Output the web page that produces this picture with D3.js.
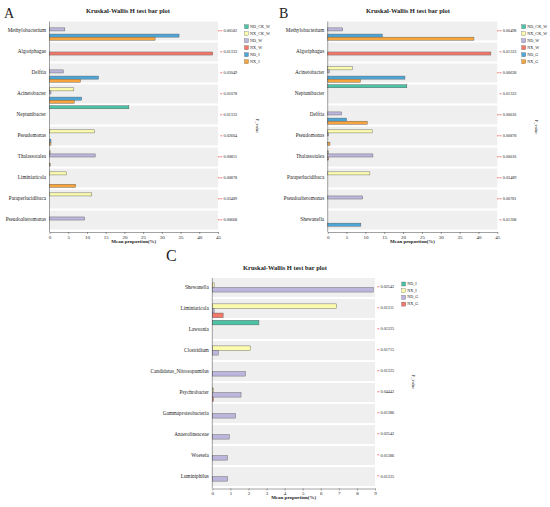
<!DOCTYPE html>
<html><head>
<meta charset="utf-8">
<script src="https://d3js.org/d3.v7.min.js"></script>
<style>
  body { margin: 0; background: #fff; }
  text { font-family: "Liberation Serif", "DejaVu Serif", serif; fill: #222; }
  .axis text { font-size: 5px; }
  .axis line, .axis path { stroke: #444; stroke-width: 0.5; }
</style>
</head>
<body>
<svg id="svg1" width="550" height="507"></svg>
<script>
// ---- data ----
const groupsA = ["ND_CK_W", "NX_CK_W", "ND_W", "NX_W", "ND_I", "NX_I"];
const taxaA = ["Methylobacterium", "Algoriphagus", "Delftia", "Acinetobacter", "Neptunibacter",
               "Pseudomonas", "Thalassotalea", "Liminiaricola", "Paraperlucidibaca", "Pseudoalteromonas"];
const valuesA = [
  [0, 0, 4.1, 0, 34.6, 28.2],
  [0, 0, 0, 43.6, 0, 0],
  [0, 0, 3.7, 0, 13.1, 8.3],
  [0, 6.5, 0.4, 0, 8.6, 6.6],
  [21.2, 0, 0, 0, 0, 0],
  [0, 12.0, 0, 0, 0.4, 0.4],
  [0, 0.2, 12.2, 0, 0, 0.2],
  [0, 4.6, 0, 0, 0, 7.0],
  [0, 11.3, 0, 0, 0, 0],
  [0, 0, 9.4, 0, 0, 0]
];
const pA = ["0.00582", "0.01333", "0.03049", "0.01078", "0.01333", "0.02664", "0.00851", "0.00878", "0.03489", "0.00668"];
const starsA = ["**", "*", "*", "*", "*", "*", "**", "**", "**", "**"];

const groupsB = ["ND_CK_W", "NX_CK_W", "ND_W", "NX_W", "ND_G", "NX_G"];
const taxaB = ["Methylobacterium", "Algoriphagus", "Acinetobacter", "Neptunibacter", "Delftia",
               "Pseudomonas", "Thalassotalea", "Paraperlucidibaca", "Pseudoalteromonas", "Shewanella"];
const valuesB = [
  [0, 0, 4.0, 0, 14.5, 38.8],
  [0, 0, 0, 43.3, 0, 0],
  [0, 6.5, 0.4, 0, 20.5, 8.7],
  [21.0, 0, 0, 0, 0, 0],
  [0, 0, 3.7, 0, 5.0, 10.5],
  [0, 11.8, 0.2, 0, 0, 0.6],
  [0, 0.2, 12.0, 0.2, 0, 0],
  [0, 11.2, 0, 0, 0, 0],
  [0, 0, 9.3, 0, 0, 0],
  [0, 0, 0, 0, 8.8, 0]
];
const pB = ["0.00498", "0.01333", "0.00638", "0.01333", "0.00616", "0.00878", "0.00616", "0.03489", "0.00781", "0.01308"];
const starsB = ["**", "*", "**", "*", "**", "**", "**", "**", "**", "*"];

const groupsC = ["ND_I", "NX_I", "ND_G", "NX_G"];
const taxaC = ["Shewanella", "Liminiaricola", "Lawsonia", "Clostridium", "Candidatus_Nitrosopumilus",
               "Psychrobacter", "Gammaproteobacteria", "Anaerolineaceae", "Woeseia", "Luminiphilus"];
const valuesC = [
  [0, 0.1, 8.9, 0],
  [0, 6.88, 0.1, 0.6],
  [2.58, 0, 0, 0],
  [0, 2.12, 0.33, 0],
  [0, 0, 1.84, 0],
  [0, 0.08, 1.59, 0.06],
  [0, 0, 1.29, 0],
  [0, 0, 0.94, 0],
  [0, 0, 0.85, 0],
  [0, 0, 0.85, 0]
];
const pC = ["0.02542", "0.01311", "0.01325", "0.01715", "0.01325", "0.04442", "0.01386", "0.02542", "0.01386", "0.01325"];
const starsC = ["*", "*", "*", "*", "*", "*", "*", "*", "*", "*"];

const ticksAB = d3.range(0, 46, 5);
const ticksC = d3.range(0, 10, 1);

const colorsAB = ["#4cc3a6", "#fbfbae", "#bcb6dc", "#f2786a", "#4ea6d8", "#f6a53e"];
const colorsC = ["#4cc3a6", "#fbfbae", "#bcb6dc", "#f2786a"];

let svg1 = d3.select("svg#svg1");

function drawPanel(o) {
  let g = svg1.append("g");

  let xScale = d3.scaleLinear().domain([0, o.xmax]).range([o.x0, o.x1]);
  let yScale = d3.scaleBand().domain(o.taxa).range([o.y0, o.y1]).paddingInner(0.1);
  let inner = d3.scaleBand().domain(o.groups).range([0, yScale.bandwidth()]).paddingOuter(0.06);
  let color = d3.scaleOrdinal().domain(o.groups).range(o.colors);

  // panel letter + title
  g.append("text").attr("x", o.letterX).attr("y", o.letterY)
    .style("font-size", o.letterSize + "px").text(o.letter);
  g.append("text").attr("x", o.titleX).attr("y", o.titleY)
    .attr("text-anchor", "middle").style("font-size", "6.5px").style("font-weight", "bold")
    .text("Kruskal-Wallis H test bar plot");

  // row backgrounds
  g.selectAll("rect.bg").data(o.taxa).join("rect")
    .attr("class", "bg")
    .attr("x", o.x0).attr("width", o.x1 - o.x0)
    .attr("y", d => yScale(d)).attr("height", yScale.bandwidth())
    .attr("fill", "#efefef");

  // bars
  let rows = g.selectAll("g.row").data(o.values).join("g")
    .attr("class", "row")
    .attr("transform", (d, i) => `translate(0,${yScale(o.taxa[i])})`);
  rows.selectAll("rect").data(d => d.map((v, j) => ({ v: v, grp: o.groups[j] })).filter(d => d.v > 0))
    .join("rect")
    .attr("x", xScale(0))
    .attr("y", d => inner(d.grp))
    .attr("width", d => xScale(d.v) - xScale(0))
    .attr("height", inner.bandwidth())
    .attr("fill", d => color(d.grp))
    .attr("stroke", "#555").attr("stroke-width", 0.4);

  // category labels
  g.selectAll("text.lab").data(o.taxa).join("text")
    .attr("class", "lab")
    .attr("x", o.x0 - 3.5).attr("y", d => yScale(d) + yScale.bandwidth() / 2)
    .attr("text-anchor", "end").attr("dominant-baseline", "middle")
    .style("font-size", "5.2px").text(d => d);

  // p values with stars
  g.selectAll("text.star").data(o.stars).join("text")
    .attr("class", "star")
    .attr("x", o.x1 + 4.5).attr("y", (d, i) => yScale(o.taxa[i]) + yScale.bandwidth() / 2 + 1.8)
    .attr("text-anchor", "end")
    .style("font-size", "5px").style("fill", "#e8252b").text(d => d);
  g.selectAll("text.pv").data(o.pvals).join("text")
    .attr("class", "pv")
    .attr("x", o.x1 + 5.5).attr("y", (d, i) => yScale(o.taxa[i]) + yScale.bandwidth() / 2)
    .attr("dominant-baseline", "middle")
    .style("font-size", "4.2px").text(d => d);

  // axes
  let leftAxis = d3.axisLeft(yScale).tickSize(0).tickFormat("");
  g.append("g").attr("class", "axis")
    .attr("transform", `translate(${o.x0},0)`)
    .call(leftAxis)
    .select(".domain").attr("d", `M0,${o.y0}V${o.y1 + 2.5}`);

  let bottomAxis = d3.axisBottom(xScale).tickValues(o.ticks).tickSize(2).tickPadding(1).tickSizeOuter(0);
  g.append("g").attr("class", "axis")
    .attr("transform", `translate(0,${o.y1 + 2.5})`)
    .call(bottomAxis);

  g.append("text").attr("x", (o.x0 + o.x1) / 2).attr("y", o.y1 + 13)
    .attr("text-anchor", "middle").style("font-size", "5px").style("font-weight", "bold")
    .text("Mean proportion(%)");

  // legend
  let leg = g.selectAll("g.leg").data(o.groups).join("g")
    .attr("class", "leg")
    .attr("transform", (d, i) => `translate(${o.legX},${o.legY + i * o.legStep})`);
  leg.append("rect").attr("x", 0).attr("y", -2).attr("width", 4).attr("height", 4)
    .attr("fill", d => color(d)).attr("stroke", "#555").attr("stroke-width", 0.3);
  leg.append("text").attr("x", 5.5).attr("y", 0).attr("dominant-baseline", "middle")
    .style("font-size", "4.2px").text(d => d);

  g.append("text")
    .attr("transform", `translate(${o.pvX},${o.pvY}) rotate(90)`)
    .attr("text-anchor", "middle")
    .style("font-size", "4.5px").text("P_value");
}

drawPanel({
  letter: "A", letterX: 4, letterY: 17.5, letterSize: 14, titleX: 128, titleY: 13,
  groups: groupsA, taxa: taxaA, values: valuesA, pvals: pA, stars: starsA, colors: colorsAB,
  xmax: 45, ticks: ticksAB, x0: 49.5, x1: 218, y0: 21.5, y1: 229.5,
  legX: 244.5, legY: 26.7, legStep: 7, pvX: 255.5, pvY: 126
});

drawPanel({
  letter: "B", letterX: 279, letterY: 17.5, letterSize: 14, titleX: 408, titleY: 13,
  groups: groupsB, taxa: taxaB, values: valuesB, pvals: pB, stars: starsB, colors: colorsAB,
  xmax: 45, ticks: ticksAB, x0: 327.7, x1: 497.3, y0: 21.5, y1: 229.5,
  legX: 521.7, legY: 26.7, legStep: 7, pvX: 534.5, pvY: 127
});

drawPanel({
  letter: "C", letterX: 166, letterY: 261, letterSize: 16, titleX: 285, titleY: 270,
  groups: groupsC, taxa: taxaC, values: valuesC, pvals: pC, stars: starsC, colors: colorsC,
  xmax: 9, ticks: ticksC, x0: 212.3, x1: 375, y0: 278, y1: 486,
  legX: 401.7, legY: 284, legStep: 6.7, pvX: 412, pvY: 382
});
</script>
</body></html>
